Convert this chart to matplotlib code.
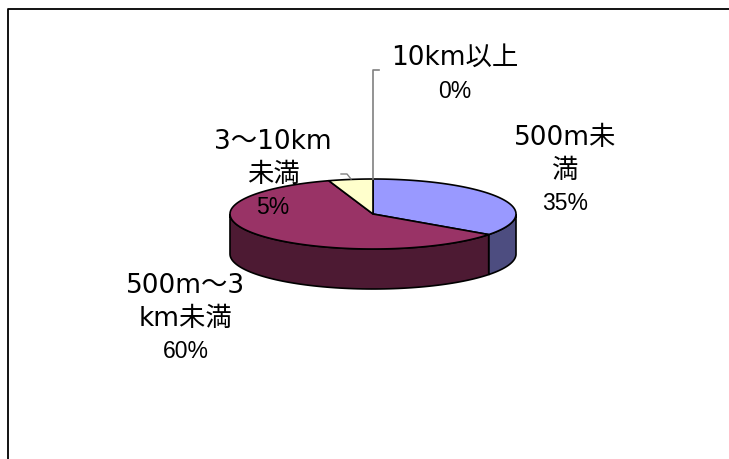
import numpy as np
import matplotlib
matplotlib.use("Agg")
import matplotlib.pyplot as plt
from matplotlib.patches import Polygon

# distance categories and shares (%)
labels = ["500m未満", "500m～3km未満", "3～10km未満", "10km以上"]
shares = [35, 60, 5, 0]
top_colors = ["#9999FF", "#993366", "#FFFFCC", "#CCFFFF"]
side_colors = ["#4D4D80", "#4D1A33", "#808066", "#668080"]

# label text as wrapped in the picture, centre x and first-line centre y
label_lines = [["500m未", "満"], ["500m～3", "km未満"], ["3～10km", "未満"], ["10km以上"]]
label_pos = [(565, 138), (186, 286), (273, 142), (455, 58)]

jp = ["DejaVu Sans", "Noto Sans CJK JP"]
num = ["Liberation Sans Narrow", "Liberation Sans", "DejaVu Sans"]

W, H = 729, 460
fig = plt.figure(figsize=(W / 100, H / 100), dpi=100)
ax = fig.add_axes([0, 0, 1, 1])
ax.set_xlim(0, W)
ax.set_ylim(H, 0)
ax.axis("off")

# chart area border (right / bottom are off the picture)
ax.plot([8, 8, W + 5], [H + 5, 10, 10], color="black", lw=1.3)

cx, cy, rx, ry, depth = 373, 215, 143, 35, 40


def edge(t, dy=0):
    return cx + rx * np.sin(t), cy - ry * np.cos(t) + dy


total = sum(shares)
bounds = np.concatenate([[0], np.cumsum(shares)]) / total * 2 * np.pi

# side walls (only the front half, pi/2 .. 3pi/2, is visible)
for i in range(len(shares)):
    a0, a1 = max(bounds[i], np.pi / 2), min(bounds[i + 1], 3 * np.pi / 2)
    if a1 <= a0:
        continue
    t = np.linspace(a0, a1, 80)
    xs, ys = edge(t)
    xb, yb = edge(t[::-1], depth)
    pts = np.column_stack([np.concatenate([xs, xb]), np.concatenate([ys, yb])])
    ax.add_patch(Polygon(pts, closed=True, fc=side_colors[i], ec="black", lw=1.2, zorder=2))

# top faces
for i in range(len(shares)):
    if shares[i] == 0:
        continue
    t = np.linspace(bounds[i], bounds[i + 1], 120)
    xs, ys = edge(t)
    pts = np.column_stack([np.concatenate([[cx], xs]), np.concatenate([[cy], ys])])
    ax.add_patch(Polygon(pts, closed=True, fc=top_colors[i], ec="black", lw=1.2, zorder=3))

# leader lines
ax.plot([373, 373, 379], [180, 71, 71], color="#808080", lw=1.2, zorder=4)
ax.plot([341, 347, 351], [175, 175, 180], color="#808080", lw=1, zorder=4)

# labels
lh = 33
for i in range(len(labels)):
    x, y = label_pos[i]
    for k, line in enumerate(label_lines[i]):
        ax.text(x, y + k * lh, line, ha="center", va="center", fontsize=19,
                family=jp)
    ax.text(x, y + len(label_lines[i]) * lh, f"{shares[i]}%", ha="center",
            va="center", fontsize=16.5, family=num)

fig.savefig("out.png", dpi=100)
